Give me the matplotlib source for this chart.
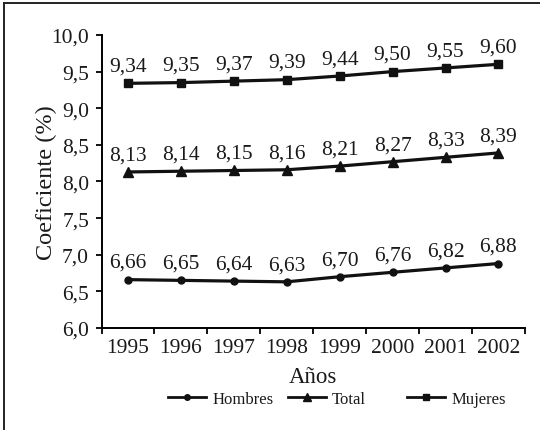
import matplotlib
matplotlib.use("Agg")
import matplotlib.pyplot as plt
from matplotlib.lines import Line2D

years = ["1995", "1996", "1997", "1998", "1999", "2000", "2001", "2002"]
hombres = [6.66, 6.65, 6.64, 6.63, 6.70, 6.76, 6.82, 6.88]
total = [8.13, 8.14, 8.15, 8.16, 8.21, 8.27, 8.33, 8.39]
mujeres = [9.34, 9.35, 9.37, 9.39, 9.44, 9.50, 9.55, 9.60]
yticks = [6.0, 6.5, 7.0, 7.5, 8.0, 8.5, 9.0, 9.5, 10.0]

plt.rcParams['font.family'] = ['Liberation Serif', 'DejaVu Serif']

fig = plt.figure(figsize=(5.4, 4.31), dpi=100)
ax = fig.add_axes([0.188, 0.2367, 0.784, 0.6798])

x = list(range(len(years)))
series = [(hombres, 'o', 5, 'Hombres'), (total, '^', 7, 'Total'), (mujeres, 's', 6, 'Mujeres')]
lines = []
for vals, m, ms, lab in series:
    ln, = ax.plot(x, vals, color='#111111', lw=2.3, marker=m, markersize=ms, label=lab)
    lines.append(ln)
    for xi, v in zip(x, vals):
        ax.annotate(f"{v:.2f}".replace('.', ','), (xi, v), xytext=(0, 5.5),
                    textcoords='offset points', ha='center', va='bottom',
                    fontsize=15.5, color='#1a1a1a')

ax.set_xlim(-0.5, len(years) - 0.5)
ax.set_ylim(6.0, 10.0)
ax.set_yticks(yticks)
ax.set_yticklabels([f"{t:.1f}".replace('.', ',') for t in yticks], fontsize=15.5, color='#1a1a1a')
ax.set_xticks([i - 0.5 for i in range(len(years) + 1)])
ax.set_xticklabels([])
ax.set_xticks(x, minor=True)
ax.set_xticklabels(years, minor=True, fontsize=15.5, color='#1a1a1a')
ax.tick_params(axis='x', which='minor', length=0, pad=7)
ax.tick_params(axis='both', which='major', direction='out', length=4, width=1.3, pad=5)
for s in ['top', 'right']:
    ax.spines[s].set_visible(False)
for s in ['left', 'bottom']:
    ax.spines[s].set_linewidth(1.4)

ax.set_ylabel("Coeficiente (%)", fontsize=17.5, color='#1a1a1a')
ax.yaxis.label.set_va('center')
ax.yaxis.set_label_coords(-0.129, 0.5)
ax.set_xlabel("Años", fontsize=16.5, color='#1a1a1a')
ax.xaxis.label.set_va('center')
ax.xaxis.set_label_coords(0.5, -0.164)

# legend entries placed individually to match spacing
leg_pos = [(0.311, 'Hombres'), (0.533, 'Total'), (0.754, 'Mujeres')]
for ln, (xa, lab) in zip(lines, leg_pos):
    h = Line2D([], [], color='#111111', lw=2.0, marker=ln.get_marker(),
               markersize=ln.get_markersize() - 1)
    lg = fig.legend([h], [lab], loc='center left', bbox_to_anchor=(xa, 0.072),
                    frameon=False, fontsize=12, handlelength=2.3, handletextpad=0.35,
                    borderpad=0, borderaxespad=0)
    for t in lg.get_texts():
        t.set_color('#1a1a1a')

fig.add_artist(Line2D([0.008, 0.008], [0, 0.991], transform=fig.transFigure,
                      color='#222222', lw=1.4))
fig.add_artist(Line2D([0.008, 1.0], [0.991, 0.991], transform=fig.transFigure,
                      color='#222222', lw=1.4))

fig.savefig("out.png", dpi=100)
